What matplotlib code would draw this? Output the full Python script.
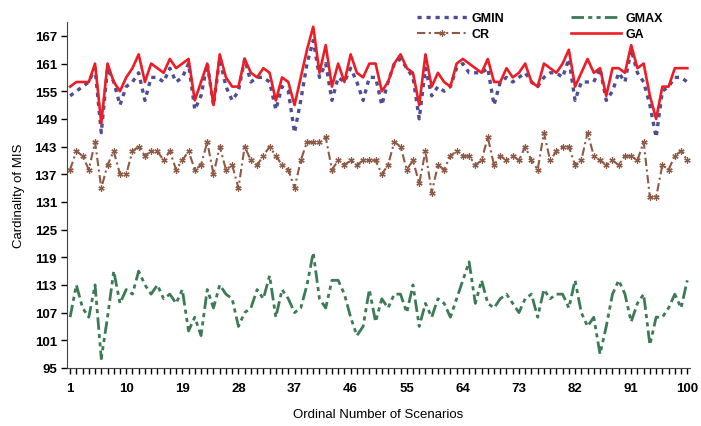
import numpy as np
import matplotlib
matplotlib.use('agg')
import matplotlib.pyplot as plt

plt.rcParams['font.family'] = ['Liberation Sans', 'DejaVu Sans']
plt.rcParams['lines.scale_dashes'] = False

scenarios = list(range(1, 101))

ga = [156, 157, 157, 157, 161, 148, 161, 157, 155, 158,
      160, 163, 157, 161, 160, 159, 162, 160, 161, 162,
      153, 157, 161, 152, 163, 158, 156, 156, 162, 159,
      158, 160, 159, 153, 158, 157, 152, 158, 164, 169,
      159, 165, 156, 161, 157, 163, 159, 158, 161, 161,
      155, 157, 161, 163, 160, 159, 152, 163, 156, 159,
      157, 156, 161, 162, 161, 160, 159, 162, 157, 157,
      160, 158, 159, 161, 157, 156, 161, 160, 159, 161,
      164, 156, 159, 162, 159, 160, 154, 160, 160, 159,
      165, 160, 161, 154, 149, 156, 156, 160, 160, 160]

gmin = [154, 155, 156, 157, 160, 146, 160, 157, 152, 156,
        157, 159, 153, 158, 158, 157, 160, 157, 158, 161,
        151, 154, 161, 152, 162, 156, 153, 155, 162, 157,
        158, 158, 157, 151, 156, 155, 146, 153, 161, 166,
        158, 161, 153, 158, 157, 160, 157, 153, 158, 158,
        152, 157, 161, 162, 160, 158, 149, 160, 154, 156,
        155, 156, 160, 161, 159, 159, 159, 160, 152, 157,
        158, 157, 158, 159, 157, 156, 158, 159, 159, 158,
        162, 153, 157, 157, 157, 160, 153, 155, 159, 157,
        164, 159, 157, 152, 145, 155, 156, 158, 158, 157]

cr = [138, 142, 141, 138, 144, 134, 139, 142, 137, 137,
      142, 143, 141, 142, 142, 140, 142, 138, 140, 142,
      138, 139, 144, 137, 143, 138, 139, 134, 143, 140,
      139, 141, 143, 141, 139, 138, 134, 140, 144, 144,
      144, 145, 138, 140, 139, 140, 139, 140, 140, 140,
      137, 139, 144, 143, 138, 140, 135, 142, 133, 139,
      138, 141, 142, 141, 141, 139, 140, 145, 139, 141,
      140, 141, 140, 143, 140, 138, 146, 140, 142, 143,
      143, 139, 140, 146, 141, 140, 139, 140, 139, 141,
      141, 140, 144, 132, 132, 139, 138, 141, 142, 140]

gmax = [106, 113, 108, 106, 113, 97, 106, 116, 109, 112,
        111, 116, 113, 111, 113, 110, 111, 109, 112, 103,
        106, 102, 112, 108, 113, 111, 110, 104, 107, 108,
        112, 110, 115, 106, 112, 110, 107, 108, 113, 120,
        110, 108, 114, 114, 111, 106, 102, 104, 112, 105,
        110, 108, 111, 111, 107, 113, 104, 109, 106, 110,
        109, 106, 110, 114, 118, 109, 114, 109, 108, 110,
        111, 109, 107, 110, 111, 106, 112, 110, 111, 111,
        108, 114, 107, 104, 106, 98, 104, 111, 114, 111,
        105, 109, 111, 100, 106, 106, 108, 111, 108, 114]

yticks = list(range(95, 168, 6))
xticks = list(range(1, 101, 9))

fig = plt.figure(figsize=(7.01, 4.27), dpi=100)
ax = fig.add_axes([0.096, 0.136, 0.888, 0.81])

l_gmax, = ax.plot(scenarios, gmax, color='#3D7A56', lw=2.0,
                  dashes=(9, 3, 3, 3, 3, 3), label='GMAX')
l_cr, = ax.plot(scenarios, cr, color='#8E5A46', lw=1.5,
                dashes=(6, 2.5, 1.5, 2.5), marker=(6, 2, 0), ms=4.5,
                mew=0.9, label='CR')
l_gmin, = ax.plot(scenarios, gmin, color='#4E4E94', lw=2.4,
                  dashes=(3, 3.5), label='GMIN')
l_ga, = ax.plot(scenarios, ga, color='#EE1C25', lw=1.9, label='GA')

ax.set_xlim(0.55, 100.4)
ax.set_ylim(95, 170)
ax.set_yticks(yticks)
ax.set_xticks(xticks)
ax.set_xticks(scenarios, minor=True)
ax.tick_params(axis='both', which='major', labelsize=9.5, length=4, width=1)
ax.tick_params(axis='x', which='major', length=4, pad=6)
ax.tick_params(axis='x', which='minor', length=4, width=1)
for lab in ax.get_xticklabels() + ax.get_yticklabels():
    lab.set_fontweight('bold')

ax.spines['top'].set_visible(False)
ax.spines['right'].set_visible(False)
ax.spines['left'].set_color('#444444')
ax.spines['bottom'].set_color('#444444')

ax.set_xlabel('Ordinal Number of Scenarios', fontsize=9.5, labelpad=10)
ax.set_ylabel('Cardinality of MIS', fontsize=9.5, labelpad=7)

fig.legend([l_gmin, l_cr, l_gmax, l_ga], ['GMIN', 'CR', 'GMAX', 'GA'],
           ncol=2, loc='upper left', bbox_to_anchor=(0.583, 0.99),
           frameon=False, handlelength=4.0, handletextpad=0.3,
           columnspacing=5.4, labelspacing=0.35, borderpad=0.2,
           prop={'weight': 'bold', 'size': 9})

plt.savefig('out.png', dpi=100)
